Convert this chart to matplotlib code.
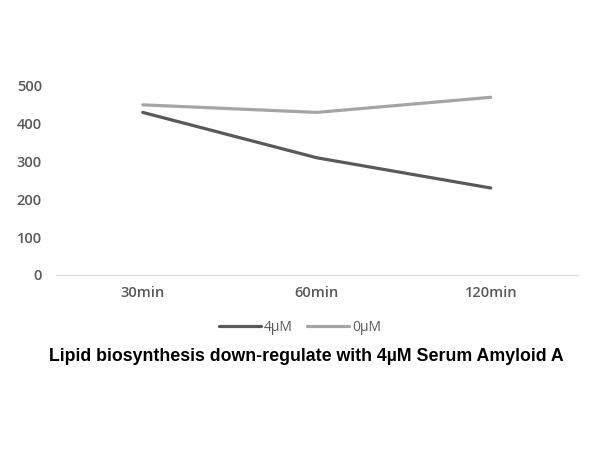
import matplotlib
matplotlib.use("Agg")
import matplotlib.pyplot as plt

categories = ["30min", "60min", "120min"]
series_4um = [430, 310, 230]
series_0um = [450, 430, 470]
yticks = [0, 100, 200, 300, 400, 500]

plt.rcParams["font.family"] = ["Open Sans", "DejaVu Sans"]

fig = plt.figure(figsize=(6, 4.5), dpi=100)
ax = fig.add_axes([0.093, 0.389, 0.87, 0.42])

x = range(len(categories))
ax.plot(x, series_4um, color="#595959", lw=2.3, label="4\u00b5M", solid_capstyle="round")
ax.plot(x, series_0um, color="#A5A5A5", lw=2.3, label="0\u00b5M", solid_capstyle="round")

ax.set_xlim(-0.5, len(categories) - 0.5)
ax.set_ylim(0, 500)
ax.set_yticks(yticks)
ax.set_xticks(list(x))
ax.set_xticklabels(categories)
for s in ["top", "right", "left"]:
    ax.spines[s].set_visible(False)
ax.spines["bottom"].set_color("#D9D9D9")
ax.tick_params(length=0, colors="#595959", labelsize=10.5)
ax.tick_params(axis="y", pad=10)
ax.tick_params(axis="x", pad=8)
for lab in ax.get_xticklabels() + ax.get_yticklabels():
    lab.set_fontweight("semibold")

fig.legend(loc="center", bbox_to_anchor=(0.5, 0.273), ncol=2, frameon=False,
           fontsize=10, labelcolor="#595959", handlelength=3.0, handletextpad=0.25,
           columnspacing=1.0)
fig.text(0.51, 0.207, "Lipid biosynthesis down-regulate with 4\u00b5M Serum Amyloid A",
         ha="center", va="center", fontsize=12.8, fontweight="bold",
         family=["Liberation Sans", "DejaVu Sans"], color="black")

fig.savefig("out.png", dpi=100)
